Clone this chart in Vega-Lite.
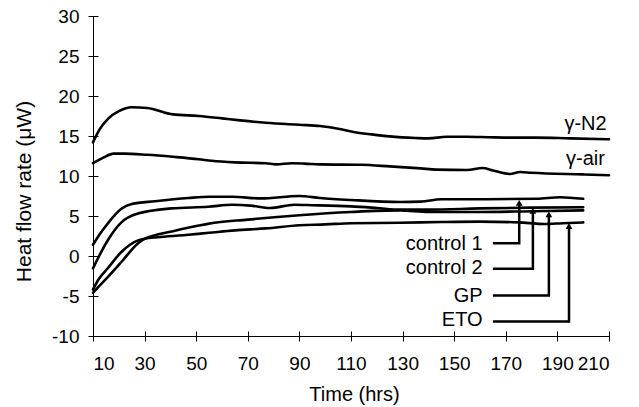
{
  "$schema": "https://vega.github.io/schema/vega-lite/v6.json",
  "width": 516,
  "height": 320,
  "autosize": "none",
  "padding": {"left": 93, "top": 16, "right": 30, "bottom": 71},
  "background": "white",
  "config": {
    "view": {"stroke": null},
    "axis": {
      "grid": false,
      "domainColor": "black",
      "domainWidth": 1,
      "tickColor": "black",
      "tickWidth": 1,
      "labelColor": "black",
      "titleColor": "black",
      "labelFont": "Liberation Sans",
      "titleFont": "Liberation Sans",
      "titleFontWeight": "normal"
    }
  },
  "datasets": {
    "curves": [
      {"s": "γ-N2", "t": 10, "v": 14.2}, {"s": "γ-N2", "t": 12.5, "v": 15.8}, {"s": "γ-N2", "t": 16, "v": 17.2}, {"s": "γ-N2", "t": 20, "v": 18.1}, {"s": "γ-N2", "t": 25, "v": 18.6}, {"s": "γ-N2", "t": 31, "v": 18.5}, {"s": "γ-N2", "t": 41, "v": 17.7}, {"s": "γ-N2", "t": 51, "v": 17.5}, {"s": "γ-N2", "t": 60, "v": 17.2}, {"s": "γ-N2", "t": 67, "v": 16.95}, {"s": "γ-N2", "t": 77, "v": 16.65}, {"s": "γ-N2", "t": 90, "v": 16.4}, {"s": "γ-N2", "t": 98, "v": 16.25}, {"s": "γ-N2", "t": 105, "v": 15.9}, {"s": "γ-N2", "t": 111, "v": 15.5}, {"s": "γ-N2", "t": 118, "v": 15.2}, {"s": "γ-N2", "t": 125, "v": 14.95}, {"s": "γ-N2", "t": 135, "v": 14.75}, {"s": "γ-N2", "t": 140, "v": 14.7}, {"s": "γ-N2", "t": 147, "v": 14.9}, {"s": "γ-N2", "t": 155, "v": 14.9}, {"s": "γ-N2", "t": 163, "v": 14.85}, {"s": "γ-N2", "t": 172, "v": 14.8}, {"s": "γ-N2", "t": 182, "v": 14.8}, {"s": "γ-N2", "t": 195, "v": 14.7}, {"s": "γ-N2", "t": 210, "v": 14.6},
      {"s": "γ-air", "t": 10, "v": 11.6}, {"s": "γ-air", "t": 14, "v": 12.3}, {"s": "γ-air", "t": 18, "v": 12.8}, {"s": "γ-air", "t": 22, "v": 12.8}, {"s": "γ-air", "t": 31, "v": 12.65}, {"s": "γ-air", "t": 41, "v": 12.4}, {"s": "γ-air", "t": 51, "v": 12.1}, {"s": "γ-air", "t": 56, "v": 11.9}, {"s": "γ-air", "t": 65, "v": 11.7}, {"s": "γ-air", "t": 77, "v": 11.6}, {"s": "γ-air", "t": 81, "v": 11.45}, {"s": "γ-air", "t": 87, "v": 11.6}, {"s": "γ-air", "t": 92, "v": 11.55}, {"s": "γ-air", "t": 98, "v": 11.45}, {"s": "γ-air", "t": 114, "v": 11.4}, {"s": "γ-air", "t": 125, "v": 11.2}, {"s": "γ-air", "t": 137, "v": 10.95}, {"s": "γ-air", "t": 143, "v": 10.8}, {"s": "γ-air", "t": 155, "v": 10.75}, {"s": "γ-air", "t": 161, "v": 11.0}, {"s": "γ-air", "t": 165, "v": 10.7}, {"s": "γ-air", "t": 171.6, "v": 10.25}, {"s": "γ-air", "t": 175.5, "v": 10.5}, {"s": "γ-air", "t": 180, "v": 10.4}, {"s": "γ-air", "t": 200, "v": 10.2}, {"s": "γ-air", "t": 210, "v": 10.1},
      {"s": "control 1", "t": 10, "v": 1.4}, {"s": "control 1", "t": 13, "v": 2.9}, {"s": "control 1", "t": 15.8, "v": 4.1}, {"s": "control 1", "t": 21, "v": 5.9}, {"s": "control 1", "t": 25, "v": 6.5}, {"s": "control 1", "t": 34, "v": 6.85}, {"s": "control 1", "t": 47, "v": 7.25}, {"s": "control 1", "t": 55, "v": 7.4}, {"s": "control 1", "t": 64, "v": 7.4}, {"s": "control 1", "t": 75, "v": 7.2}, {"s": "control 1", "t": 90, "v": 7.5}, {"s": "control 1", "t": 98, "v": 7.25}, {"s": "control 1", "t": 110, "v": 7.0}, {"s": "control 1", "t": 129, "v": 6.75}, {"s": "control 1", "t": 137, "v": 6.8}, {"s": "control 1", "t": 145, "v": 7.1}, {"s": "control 1", "t": 163, "v": 7.1}, {"s": "control 1", "t": 182, "v": 7.15}, {"s": "control 1", "t": 191, "v": 7.35}, {"s": "control 1", "t": 200, "v": 7.15},
      {"s": "control 2", "t": 10, "v": -1.55}, {"s": "control 2", "t": 13, "v": 0.4}, {"s": "control 2", "t": 15.8, "v": 2.0}, {"s": "control 2", "t": 21, "v": 4.2}, {"s": "control 2", "t": 27.4, "v": 5.3}, {"s": "control 2", "t": 40.4, "v": 5.95}, {"s": "control 2", "t": 54.6, "v": 6.15}, {"s": "control 2", "t": 64, "v": 6.4}, {"s": "control 2", "t": 71, "v": 6.3}, {"s": "control 2", "t": 78.6, "v": 6.0}, {"s": "control 2", "t": 88, "v": 6.4}, {"s": "control 2", "t": 95, "v": 6.35}, {"s": "control 2", "t": 110, "v": 6.2}, {"s": "control 2", "t": 120, "v": 6.0}, {"s": "control 2", "t": 129, "v": 5.8}, {"s": "control 2", "t": 140, "v": 5.8}, {"s": "control 2", "t": 160, "v": 5.95}, {"s": "control 2", "t": 180, "v": 6.05}, {"s": "control 2", "t": 200, "v": 6.1},
      {"s": "GP", "t": 10, "v": -4.6}, {"s": "GP", "t": 12, "v": -3.9}, {"s": "GP", "t": 15.8, "v": -2.6}, {"s": "GP", "t": 21, "v": -0.75}, {"s": "GP", "t": 27.5, "v": 1.6}, {"s": "GP", "t": 30, "v": 2.15}, {"s": "GP", "t": 33, "v": 2.5}, {"s": "GP", "t": 41, "v": 3.1}, {"s": "GP", "t": 51, "v": 3.8}, {"s": "GP", "t": 55, "v": 4.05}, {"s": "GP", "t": 70, "v": 4.55}, {"s": "GP", "t": 90, "v": 5.1}, {"s": "GP", "t": 110, "v": 5.5}, {"s": "GP", "t": 129, "v": 5.7}, {"s": "GP", "t": 140, "v": 5.5}, {"s": "GP", "t": 160, "v": 5.5}, {"s": "GP", "t": 180, "v": 5.6}, {"s": "GP", "t": 200, "v": 5.7},
      {"s": "ETO", "t": 10, "v": -4.2}, {"s": "ETO", "t": 12, "v": -3.0}, {"s": "ETO", "t": 15.8, "v": -1.5}, {"s": "ETO", "t": 21, "v": 0.5}, {"s": "ETO", "t": 27.5, "v": 1.95}, {"s": "ETO", "t": 30, "v": 2.15}, {"s": "ETO", "t": 35, "v": 2.35}, {"s": "ETO", "t": 45, "v": 2.6}, {"s": "ETO", "t": 55, "v": 2.9}, {"s": "ETO", "t": 65, "v": 3.2}, {"s": "ETO", "t": 77, "v": 3.45}, {"s": "ETO", "t": 90, "v": 3.85}, {"s": "ETO", "t": 100, "v": 3.95}, {"s": "ETO", "t": 110, "v": 4.1}, {"s": "ETO", "t": 129, "v": 4.15}, {"s": "ETO", "t": 145, "v": 4.25}, {"s": "ETO", "t": 160, "v": 4.3}, {"s": "ETO", "t": 175, "v": 4.2}, {"s": "ETO", "t": 185, "v": 4.0}, {"s": "ETO", "t": 192, "v": 4.1}, {"s": "ETO", "t": 200, "v": 4.2}
    ],
    "leaders": [
      {"s": "control 1", "k": 1, "t": 165, "v": 1.6}, {"s": "control 1", "k": 2, "t": 175.2, "v": 1.6}, {"s": "control 1", "k": 3, "t": 175.2, "v": 6.7},
      {"s": "control 2", "k": 1, "t": 165, "v": -1.6}, {"s": "control 2", "k": 2, "t": 180.5, "v": -1.6}, {"s": "control 2", "k": 3, "t": 180.5, "v": 5.65},
      {"s": "GP", "k": 1, "t": 165, "v": -4.95}, {"s": "GP", "k": 2, "t": 186.7, "v": -4.95}, {"s": "GP", "k": 3, "t": 186.7, "v": 5.2},
      {"s": "ETO", "k": 1, "t": 165, "v": -8.2}, {"s": "ETO", "k": 2, "t": 194.5, "v": -8.2}, {"s": "ETO", "k": 3, "t": 194.5, "v": 3.75}
    ],
    "heads": [
      {"s": "control 1", "t": 175.2, "v": 6.65},
      {"s": "control 2", "t": 180.5, "v": 5.65},
      {"s": "GP", "t": 186.7, "v": 5.2},
      {"s": "ETO", "t": 194.5, "v": 3.75}
    ],
    "labels": [
      {"label": "control 1", "t": 161, "v": 0.75},
      {"label": "control 2", "t": 161, "v": -2.25},
      {"label": "GP", "t": 161, "v": -5.7},
      {"label": "ETO", "t": 161, "v": -8.75},
      {"label": "γ-N2", "t": 209.1, "v": 15.75},
      {"label": "γ-air", "t": 208.4, "v": 11.4}
    ]
  },
  "resolve": {"axis": {"x": "independent", "y": "independent"}},
  "layer": [
    {
      "data": {"name": "curves"},
      "mark": {"type": "line", "interpolate": "monotone", "color": "black", "strokeWidth": 2.6, "strokeCap": "round", "strokeJoin": "round"},
      "encoding": {
        "x": {
          "field": "t", "type": "quantitative",
          "scale": {"domain": [10, 210], "nice": false, "zero": false},
          "axis": {
            "orient": "bottom",
            "values": [10, 30, 50, 70, 90, 110, 130, 150, 170, 190, 210],
            "domain": false, "offset": -5,
            "tickSize": 10, "labelPadding": 13, "labelFontSize": 19,
            "title": "Time (hrs)", "titleFontSize": 20, "titleX": 261, "titleY": 69, "titleBaseline": "alphabetic"
          }
        },
        "y": {
          "field": "v", "type": "quantitative",
          "scale": {"domain": [-10, 30], "nice": false, "zero": false},
          "axis": {
            "orient": "left",
            "values": [-10, -5, 0, 5, 10, 15, 20, 25, 30],
            "labelExpr": "replace(datum.label, '−', '-')",
            "domain": false, "offset": -5,
            "tickSize": 10, "labelPadding": 9, "labelFontSize": 19,
            "title": "Heat flow rate (μW)", "titleFontSize": 21, "titleAngle": 270, "titleX": -68, "titleY": 175, "titleBaseline": "alphabetic", "titleAlign": "center"
          }
        },
        "detail": {"field": "s"}
      }
    },
    {
      "data": {"name": "leaders"},
      "mark": {"type": "line", "interpolate": "linear", "color": "black", "strokeWidth": 2.5},
      "encoding": {
        "x": {
          "field": "t", "type": "quantitative",
          "scale": {"domain": [10, 210], "nice": false, "zero": false},
          "axis": {"orient": "bottom", "ticks": false, "labels": false, "domain": true, "title": null}
        },
        "y": {
          "field": "v", "type": "quantitative",
          "scale": {"domain": [-10, 30], "nice": false, "zero": false},
          "axis": {"orient": "left", "ticks": false, "labels": false, "domain": true, "title": null}
        },
        "detail": {"field": "s"},
        "order": {"field": "k"}
      }
    },
    {
      "data": {"name": "heads"},
      "mark": {"type": "point", "shape": "triangle-up", "filled": true, "color": "black", "opacity": 1, "size": 45},
      "encoding": {
        "x": {"field": "t", "type": "quantitative", "axis": null},
        "y": {"field": "v", "type": "quantitative", "axis": null}
      }
    },
    {
      "data": {"name": "labels"},
      "mark": {"type": "text", "align": "right", "baseline": "alphabetic", "font": "Liberation Sans", "fontSize": 20, "color": "black"},
      "encoding": {
        "x": {"field": "t", "type": "quantitative", "axis": null},
        "y": {"field": "v", "type": "quantitative", "axis": null},
        "text": {"field": "label"}
      }
    }
  ]
}
